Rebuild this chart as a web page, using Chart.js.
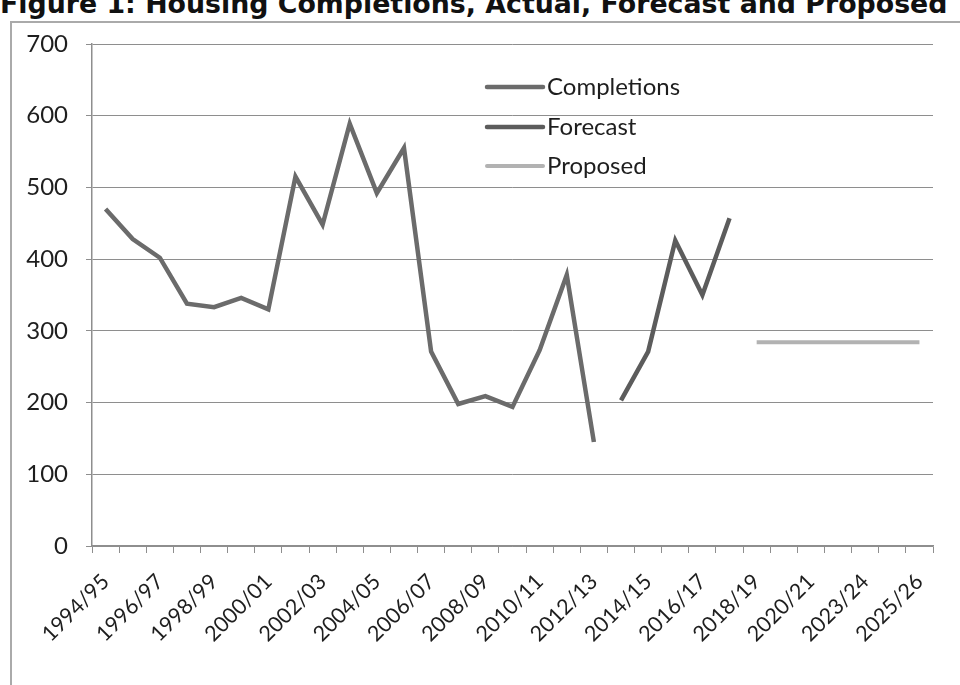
<!DOCTYPE html>
<html>
<head>
<meta charset="utf-8">
<title>Housing Completions, Actual, Forecast and Proposed</title>
<script src="https://cdn.jsdelivr.net/npm/chart.js@4.4.1/dist/chart.umd.min.js"></script>
<style>
  html, body { margin: 0; padding: 0; background: #fff; width: 960px; height: 685px; overflow: hidden; }
  #frame { position: absolute; left: 10px; top: 21px; width: 960px; height: 700px;
           border-left: 2px solid #aaaaaa; border-top: 2px solid #aaaaaa; }
  #title { position: absolute; left: 0px; top: -9px; font: bold 26.8px "DejaVu Sans", sans-serif;
           color: #111; white-space: nowrap; line-height: 26.8px; }
  canvas { position: absolute; left: 0; top: 0; }
</style>
</head>
<body>
<div id="frame"></div>
<div id="title">Figure 1: Housing Completions, Actual, Forecast and Proposed</div>
<canvas id="chart" width="960" height="685"></canvas>
<script>
// Financial years on the category axis (2022/23 is not listed in the source table)
const categories = [
  '1994/95','1995/96','1996/97','1997/98','1998/99','1999/00','2000/01','2001/02',
  '2002/03','2003/04','2004/05','2005/06','2006/07','2007/08','2008/09','2009/10',
  '2010/11','2011/12','2012/13','2013/14','2014/15','2015/16','2016/17','2017/18',
  '2018/19','2019/20','2020/21','2021/22','2023/24','2024/25','2025/26'
];

// Actual completions, 1994/95 to 2012/13
const completions = [
  470, 428, 402, 338, 333, 346, 330, 515, 448, 589, 492, 555, 271, 198, 209, 194,
  273, 378, 145,
  null, null, null, null, null, null, null, null, null, null, null, null
];

// Forecast completions, 2013/14 to 2017/18
const forecast = [
  null, null, null, null, null, null, null, null, null, null, null, null, null, null, null, null,
  null, null, null,
  203, 271, 426, 350, 457,
  null, null, null, null, null, null, null
];

// Proposed annual requirement, 2018/19 onwards
const proposed = [
  null, null, null, null, null, null, null, null, null, null, null, null, null, null, null, null,
  null, null, null, null, null, null, null, null,
  284, 284, 284, 284, 284, 284, 284
];

const yTicks = [0, 100, 200, 300, 400, 500, 600, 700];

const seriesNames = ['Completions', 'Forecast', 'Proposed'];
const seriesColors = ['#6b6b6b', '#5c5c5c', '#b2b2b2'];
const seriesWidths = [4.5, 4.5, 4];

const FONT = 'Lato, "Open Sans", sans-serif';
const TEXT = '#1e1e1e';
const GRID = '#8e8e8e';

// Legend drawn inside the plot area as a vertical list of line swatches
const insideLegend = {
  id: 'insideLegend',
  afterDraw(chart) {
    const { ctx, chartArea } = chart;
    const x0 = chartArea.left + 395;
    const x1 = chartArea.left + 451;
    const rows = [43, 83, 122];
    ctx.save();
    ctx.font = '24px ' + FONT;
    ctx.textBaseline = 'middle';
    ctx.textAlign = 'left';
    chart.data.datasets.forEach((ds, i) => {
      const y = chartArea.top + rows[i];
      ctx.strokeStyle = ds.borderColor;
      ctx.lineWidth = ds.borderWidth;
      ctx.lineCap = 'round';
      ctx.beginPath();
      ctx.moveTo(x0, y);
      ctx.lineTo(x1, y);
      ctx.stroke();
      ctx.fillStyle = TEXT;
      ctx.fillText(ds.label, x1 + 4, y);
    });
    ctx.restore();
  }
};

new Chart(document.getElementById('chart'), {
  type: 'line',
  data: {
    labels: categories,
    datasets: [completions, forecast, proposed].map((values, i) => ({
      label: seriesNames[i],
      data: values,
      borderColor: seriesColors[i],
      backgroundColor: seriesColors[i],
      borderWidth: seriesWidths[i],
      pointRadius: 0,
      pointHoverRadius: 0,
      tension: 0,
      spanGaps: false,
      fill: false
    }))
  },
  options: {
    responsive: false,
    animation: false,
    devicePixelRatio: 1,
    layout: { padding: { left: 0, top: 44, right: 27, bottom: 0 } },
    plugins: {
      legend: { display: false },
      title: { display: false },
      tooltip: { enabled: false }
    },
    scales: {
      x: {
        type: 'category',
        offset: true,
        grid: { offset: true, drawOnChartArea: false, drawTicks: true, tickLength: 7, color: GRID, lineWidth: 1 },
        border: { display: true, color: GRID, width: 1.5 },
        ticks: {
          autoSkip: false,
          minRotation: 45,
          maxRotation: 45,
          padding: 16,
          color: TEXT,
          font: { family: FONT, size: 21.5 },
          callback: (value, index) => (index % 2 === 0 ? categories[index] : '')
        },
        afterFit(scale) { scale.height = 139; }
      },
      y: {
        min: yTicks[0],
        max: yTicks[yTicks.length - 1],
        afterBuildTicks(scale) { scale.ticks = yTicks.map(v => ({ value: v })); },
        grid: { color: GRID, lineWidth: 1, drawTicks: true, tickLength: 6 },
        border: { display: true, color: GRID, width: 1.5 },
        ticks: {
          padding: 18,
          color: TEXT,
          font: { family: FONT, size: 24 }
        },
        afterFit(scale) { scale.width = 92; }
      }
    }
  },
  plugins: [insideLegend]
});
</script>
</body>
</html>
